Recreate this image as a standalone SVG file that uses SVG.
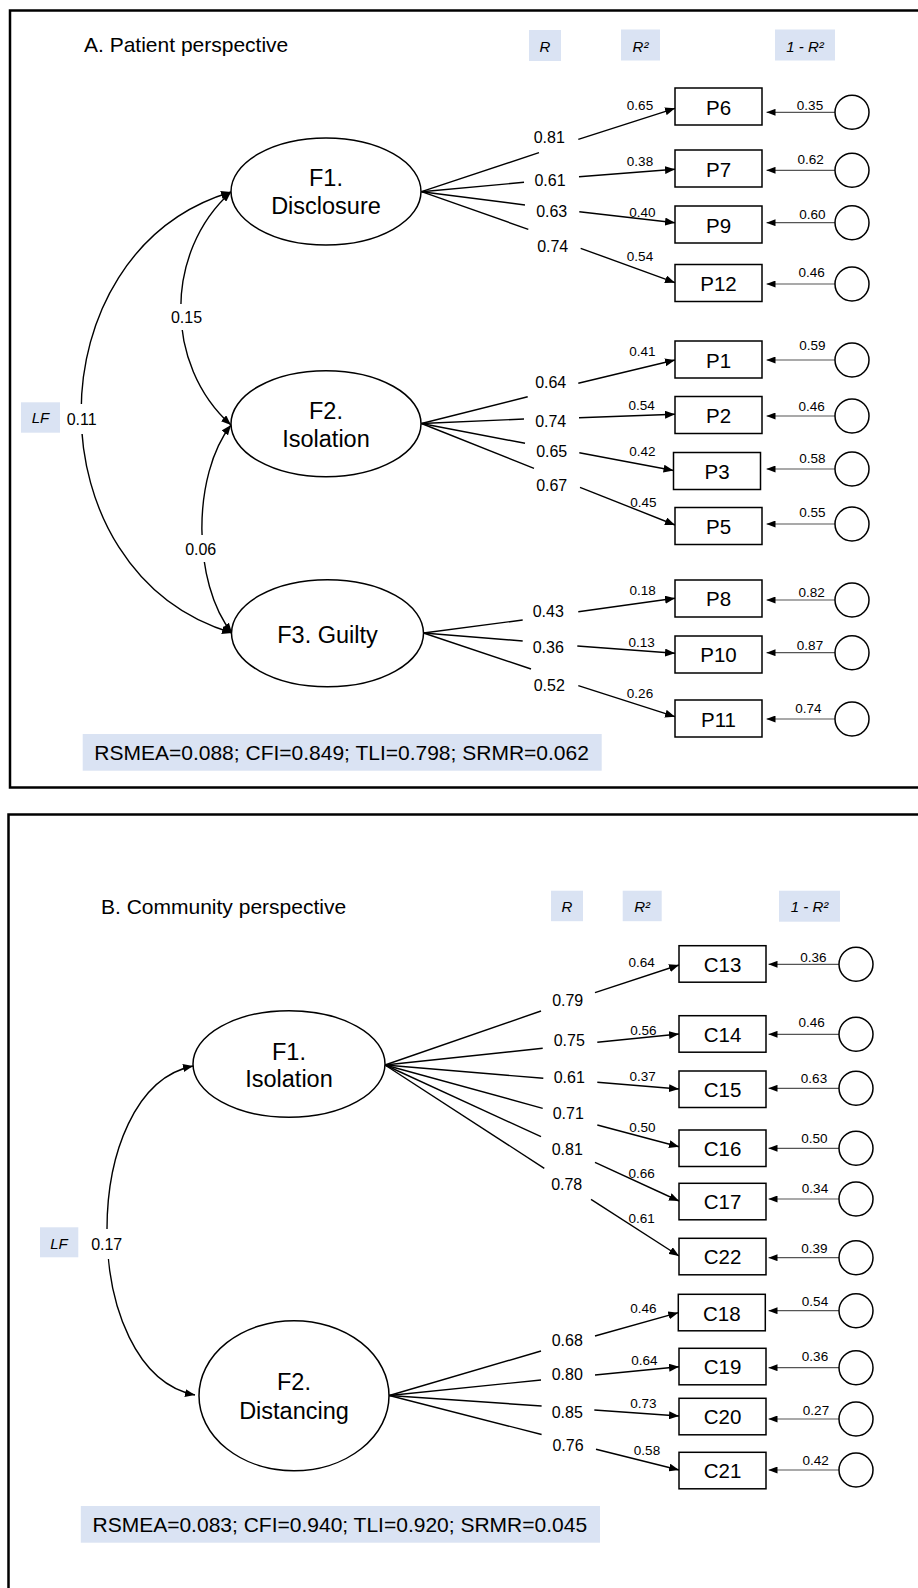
<svg xmlns="http://www.w3.org/2000/svg" width="918" height="1588" viewBox="0 0 918 1588">
<style>
text{font-family:"Liberation Sans",Arial,Helvetica,sans-serif;fill:#000}
.ti{font-size:21px}
.el{font-size:23.5px;text-anchor:middle}
.bx{font-size:20.5px;text-anchor:middle}
.r{font-size:16px;text-anchor:middle}
.s{font-size:13.5px;text-anchor:middle}
.h{font-size:15px;font-style:italic;text-anchor:middle}
.st{font-size:21px}
.frame{fill:none;stroke:#000;stroke-width:2.5}
.ell{fill:#fff;stroke:#000;stroke-width:1.5}
.rect{fill:#fff;stroke:#000;stroke-width:1.5}
.circ{fill:#fff;stroke:#000;stroke-width:1.5}
.hb{fill:#dae3f3}
.ld{stroke:#000;stroke-width:1.4;fill:none}
.ar{stroke:#000;stroke-width:1.4;fill:none;marker-end:url(#ah)}
.er{stroke:#555;stroke-width:1.2;fill:none;marker-end:url(#ahs)}
.cv{stroke:#000;stroke-width:1.4;fill:none;marker-start:url(#ah);marker-end:url(#ah)}
.wb{fill:#fff}
</style>
<defs>
<marker id="ah" viewBox="0 0 10 8" refX="10" refY="4" markerWidth="10" markerHeight="8" markerUnits="userSpaceOnUse" orient="auto-start-reverse"><path d="M0,0L10,4L0,8z" fill="#000"/></marker>
<marker id="ahs" viewBox="0 0 9 7" refX="9" refY="3.5" markerWidth="9" markerHeight="7" markerUnits="userSpaceOnUse" orient="auto"><path d="M0,0L9,3.5L0,7z" fill="#000"/></marker>
</defs>
<rect width="918" height="1588" fill="#fff"/>
<!-- frames -->
<rect class="frame" x="10" y="10.5" width="930" height="777"/>
<rect class="frame" x="8.5" y="814.5" width="930" height="800"/>

<!-- Panel A headers -->
<g id="A-headers">
<text class="ti" x="84" y="52">A. Patient perspective</text>
<rect class="hb" x="529" y="30" width="32" height="31"/><text class="h" x="545" y="52">R</text>
<rect class="hb" x="621" y="29.5" width="39" height="31"/><text class="h" x="640.5" y="52">R²</text>
<rect class="hb" x="775" y="29.5" width="60" height="31"/><text class="h" x="805" y="52">1 - R²</text>
<rect class="hb" x="21" y="402.3" width="39" height="30.4"/><text class="h" x="40.5" y="423">LF</text>
</g>

<!-- Panel A connectors -->
<g id="A-connectors">
<path class="cv" d="M231,192 C31,252 31,573 232,633"/>
<path class="cv" d="M231,192 C164,252 164,365 231,425"/>
<path class="cv" d="M231,425 C192,475 192,583 232,633"/>
<!-- F1 -->
<path class="ld" d="M421.5,191.7L539,152.7"/><path class="ar" d="M578.3,139.3L675,108.3"/>
<path class="ld" d="M421.5,191.7L524,182.3"/><path class="ar" d="M579,176.7L675,169.3"/>
<path class="ld" d="M421.5,191.7L525,205"/><path class="ar" d="M579.3,211.7L675,222.7"/>
<path class="ld" d="M421.5,191.7L528.3,229.3"/><path class="ar" d="M580.7,248.3L675,282.7"/>
<!-- F2 -->
<path class="ld" d="M421.5,423.5L527.7,396.7"/><path class="ar" d="M578.3,383.3L675,360"/>
<path class="ld" d="M421.5,423.5L524,419"/><path class="ar" d="M579,417.7L675,414.3"/>
<path class="ld" d="M421.5,423.5L525,443.3"/><path class="ar" d="M579.3,452.7L673.5,470.5"/>
<path class="ld" d="M421.5,423.5L534,468.3"/><path class="ar" d="M580,487.3L675,525"/>
<!-- F3 -->
<path class="ld" d="M423.5,633L522.7,620"/><path class="ar" d="M578.3,611.7L675,598.3"/>
<path class="ld" d="M423.5,633L522.7,641"/><path class="ar" d="M577.3,646L675,653.3"/>
<path class="ld" d="M423.5,633L531,669"/><path class="ar" d="M578.3,685.7L675,716.7"/>
<!-- errors -->
<path class="er" d="M835,112.3H766.5"/>
<path class="er" d="M835,170.3H766.5"/>
<path class="er" d="M835,222.7H766.5"/>
<path class="er" d="M835,284H766.5"/>
<path class="er" d="M835,360H766.5"/>
<path class="er" d="M835,416H766.5"/>
<path class="er" d="M835,469H766.5"/>
<path class="er" d="M835,524H766.5"/>
<path class="er" d="M835,600H766.5"/>
<path class="er" d="M835,652.7H766.5"/>
<path class="er" d="M835,719H766.5"/>
</g>

<!-- Panel A labels -->
<g id="A-labels">
<rect class="wb" x="66" y="404" width="31" height="30"/><text class="r" x="81.7" y="425">0.11</text>
<rect class="wb" x="171" y="304" width="31" height="26"/><text class="r" x="186.5" y="323">0.15</text>
<rect class="wb" x="185" y="535" width="31" height="27"/><text class="r" x="200.7" y="555">0.06</text>
<text class="r" x="549.3" y="143.3">0.81</text>
<text class="r" x="550" y="185.7">0.61</text>
<text class="r" x="551.7" y="217.3">0.63</text>
<text class="r" x="552.7" y="251.7">0.74</text>
<text class="r" x="550.7" y="387.7">0.64</text>
<text class="r" x="550.7" y="426.7">0.74</text>
<text class="r" x="551.7" y="456.7">0.65</text>
<text class="r" x="551.7" y="490.7">0.67</text>
<text class="r" x="548.3" y="616.7">0.43</text>
<text class="r" x="548.3" y="653.3">0.36</text>
<text class="r" x="549.3" y="690.7">0.52</text>
<text class="s" x="640" y="110">0.65</text>
<text class="s" x="640" y="165.7">0.38</text>
<text class="s" x="642.3" y="216.7">0.40</text>
<text class="s" x="640" y="261">0.54</text>
<text class="s" x="642.3" y="355.7">0.41</text>
<text class="s" x="641.7" y="410">0.54</text>
<text class="s" x="642.3" y="456">0.42</text>
<text class="s" x="643.3" y="507.3">0.45</text>
<text class="s" x="642.7" y="595">0.18</text>
<text class="s" x="641.7" y="646.7">0.13</text>
<text class="s" x="640" y="697.7">0.26</text>
<text class="s" x="810" y="110">0.35</text>
<text class="s" x="810.7" y="164.3">0.62</text>
<text class="s" x="812.3" y="219.3">0.60</text>
<text class="s" x="811.7" y="277.3">0.46</text>
<text class="s" x="812.3" y="350">0.59</text>
<text class="s" x="811.7" y="411">0.46</text>
<text class="s" x="812.3" y="463.3">0.58</text>
<text class="s" x="812.3" y="517.3">0.55</text>
<text class="s" x="811.7" y="597.3">0.82</text>
<text class="s" x="810" y="650">0.87</text>
<text class="s" x="808.3" y="713.3">0.74</text>
<rect class="hb" x="82.7" y="734" width="519" height="36.7"/>
<text class="st" x="94.3" y="760">RSMEA=0.088; CFI=0.849; TLI=0.798; SRMR=0.062</text>
</g>

<!-- Panel A nodes -->
<g id="A-F1"><ellipse class="ell" cx="326" cy="191.5" rx="95" ry="53.5"/><text class="el" x="326" y="186">F1.</text><text class="el" x="326" y="214">Disclosure</text></g>
<g id="A-F2"><ellipse class="ell" cx="326" cy="423.7" rx="95" ry="53"/><text class="el" x="326" y="419">F2.</text><text class="el" x="326" y="447.3">Isolation</text></g>
<g id="A-F3"><ellipse class="ell" cx="327.5" cy="633.3" rx="96" ry="53.5"/><text class="el" x="327.5" y="643.3">F3. Guilty</text></g>
<g id="A-P6"><rect class="rect" x="675" y="88" width="87" height="37"/><text class="bx" x="718.5" y="114.5">P6</text></g>
<g id="A-P7"><rect class="rect" x="675" y="150" width="87" height="37"/><text class="bx" x="718.5" y="176.5">P7</text></g>
<g id="A-P9"><rect class="rect" x="675" y="206" width="87" height="37"/><text class="bx" x="718.5" y="232.5">P9</text></g>
<g id="A-P12"><rect class="rect" x="675" y="264.5" width="87" height="37"/><text class="bx" x="718.5" y="291">P12</text></g>
<g id="A-P1"><rect class="rect" x="675" y="341" width="87" height="37"/><text class="bx" x="718.5" y="367.5">P1</text></g>
<g id="A-P2"><rect class="rect" x="675" y="396.5" width="87" height="37"/><text class="bx" x="718.5" y="423">P2</text></g>
<g id="A-P3"><rect class="rect" x="673.5" y="452.5" width="87" height="37"/><text class="bx" x="717" y="479">P3</text></g>
<g id="A-P5"><rect class="rect" x="675" y="507.5" width="87" height="37"/><text class="bx" x="718.5" y="534">P5</text></g>
<g id="A-P8"><rect class="rect" x="675" y="580" width="87" height="37"/><text class="bx" x="718.5" y="606">P8</text></g>
<g id="A-P10"><rect class="rect" x="675" y="636" width="87" height="37"/><text class="bx" x="718.5" y="662">P10</text></g>
<g id="A-P11"><rect class="rect" x="675" y="700" width="87" height="37"/><text class="bx" x="718.5" y="726.5">P11</text></g>
<g id="A-e6"><circle class="circ" cx="852" cy="112.3" r="17"/></g>
<g id="A-e7"><circle class="circ" cx="852" cy="170.3" r="17"/></g>
<g id="A-e9"><circle class="circ" cx="852" cy="222.7" r="17"/></g>
<g id="A-e12"><circle class="circ" cx="852" cy="284" r="17"/></g>
<g id="A-e1"><circle class="circ" cx="852" cy="360" r="17"/></g>
<g id="A-e2"><circle class="circ" cx="852" cy="416" r="17"/></g>
<g id="A-e3"><circle class="circ" cx="852" cy="469" r="17"/></g>
<g id="A-e5"><circle class="circ" cx="852" cy="524" r="17"/></g>
<g id="A-e8"><circle class="circ" cx="852" cy="600" r="17"/></g>
<g id="A-e10"><circle class="circ" cx="852" cy="652.7" r="17"/></g>
<g id="A-e11"><circle class="circ" cx="852" cy="719" r="17"/></g>

<!-- Panel B headers -->
<g id="B-headers">
<text class="ti" x="101" y="914.3">B. Community perspective</text>
<rect class="hb" x="551" y="890.7" width="32" height="30.5"/><text class="h" x="567" y="912.3">R</text>
<rect class="hb" x="622.7" y="890.7" width="39" height="30.5"/><text class="h" x="642.2" y="912.3">R²</text>
<rect class="hb" x="779" y="890.7" width="61" height="31"/><text class="h" x="809.5" y="912.3">1 - R²</text>
<rect class="hb" x="40" y="1227.3" width="38.3" height="30"/><text class="h" x="59" y="1248.5">LF</text>
</g>

<!-- Panel B connectors -->
<g id="B-connectors">
<path class="cv" d="M193,1066 C78,1089 78,1372 195,1395"/>
<path class="ld" d="M385,1065L541,1011"/><path class="ar" d="M595,992.7L679,965"/>
<path class="ld" d="M385,1065L542.7,1048.3"/><path class="ar" d="M597.3,1042.3L679,1034"/>
<path class="ld" d="M385,1065L543.3,1078.3"/><path class="ar" d="M597.3,1082.3L679,1089"/>
<path class="ld" d="M385,1065L542.7,1108.3"/><path class="ar" d="M597.3,1125L679,1146.7"/>
<path class="ld" d="M385,1065L541,1136.7"/><path class="ar" d="M595,1162.3L679,1201"/>
<path class="ld" d="M385,1065L544.3,1168.3"/><path class="ar" d="M591,1199.3L679,1256"/>
<path class="ld" d="M389.3,1395.5L541,1351"/><path class="ar" d="M595,1336L678.3,1312.7"/>
<path class="ld" d="M389.3,1395.5L541,1380"/><path class="ar" d="M595,1375L679,1366.7"/>
<path class="ld" d="M389.3,1395.5L541.6,1406"/><path class="ar" d="M594.3,1410L679,1416"/>
<path class="ld" d="M389.3,1395.5L541.6,1434.5"/><path class="ar" d="M596,1449.3L679,1470"/>
<path class="er" d="M839,964.3H768.5"/>
<path class="er" d="M839,1034.3H768.5"/>
<path class="er" d="M839,1088.3H768.5"/>
<path class="er" d="M839,1148.3H768.5"/>
<path class="er" d="M839,1199H768.5"/>
<path class="er" d="M839,1257.7H768.5"/>
<path class="er" d="M839,1310.7H768.5"/>
<path class="er" d="M839,1367.7H768.5"/>
<path class="er" d="M839,1419H768.5"/>
<path class="er" d="M839,1470H768.5"/>
</g>

<!-- Panel B labels -->
<g id="B-labels">
<rect class="wb" x="91" y="1229" width="31" height="30"/><text class="r" x="106.7" y="1250">0.17</text>
<text class="r" x="567.7" y="1005.7">0.79</text>
<text class="r" x="569.3" y="1046">0.75</text>
<text class="r" x="569.3" y="1082.7">0.61</text>
<text class="r" x="568.3" y="1118.7">0.71</text>
<text class="r" x="567.3" y="1155">0.81</text>
<text class="r" x="566.7" y="1190">0.78</text>
<text class="r" x="567.3" y="1346">0.68</text>
<text class="r" x="567.3" y="1380">0.80</text>
<text class="r" x="567.3" y="1418">0.85</text>
<text class="r" x="568" y="1450.7">0.76</text>
<text class="s" x="641.7" y="967.3">0.64</text>
<text class="s" x="643.3" y="1035">0.56</text>
<text class="s" x="642.7" y="1081">0.37</text>
<text class="s" x="642.3" y="1131.7">0.50</text>
<text class="s" x="641.7" y="1178.3">0.66</text>
<text class="s" x="641.7" y="1223.3">0.61</text>
<text class="s" x="643.3" y="1313.3">0.46</text>
<text class="s" x="644.3" y="1365">0.64</text>
<text class="s" x="643.3" y="1408.3">0.73</text>
<text class="s" x="647" y="1455">0.58</text>
<text class="s" x="813.3" y="961.7">0.36</text>
<text class="s" x="811.7" y="1027.3">0.46</text>
<text class="s" x="814" y="1082.7">0.63</text>
<text class="s" x="814.3" y="1142.7">0.50</text>
<text class="s" x="815" y="1193.3">0.34</text>
<text class="s" x="814.3" y="1253.3">0.39</text>
<text class="s" x="815" y="1305.7">0.54</text>
<text class="s" x="815" y="1360.7">0.36</text>
<text class="s" x="816" y="1415">0.27</text>
<text class="s" x="815.6" y="1465">0.42</text>
<rect class="hb" x="80.8" y="1506" width="519.2" height="36.7"/>
<text class="st" x="92.5" y="1531.7">RSMEA=0.083; CFI=0.940; TLI=0.920; SRMR=0.045</text>
</g>

<!-- Panel B nodes -->
<g id="B-F1"><ellipse class="ell" cx="289" cy="1064" rx="96" ry="53.3"/><text class="el" x="289" y="1060">F1.</text><text class="el" x="289" y="1087.3">Isolation</text></g>
<g id="B-F2"><ellipse class="ell" cx="294" cy="1395.7" rx="95" ry="75"/><text class="el" x="294" y="1390">F2.</text><text class="el" x="294" y="1419">Distancing</text></g>
<g id="B-C13"><rect class="rect" x="679" y="945.7" width="87" height="36.5"/><text class="bx" x="722.5" y="971.7">C13</text></g>
<g id="B-C14"><rect class="rect" x="679" y="1015.7" width="87" height="36.5"/><text class="bx" x="722.5" y="1041.7">C14</text></g>
<g id="B-C15"><rect class="rect" x="679" y="1071" width="87" height="36.5"/><text class="bx" x="722.5" y="1097.3">C15</text></g>
<g id="B-C16"><rect class="rect" x="679" y="1130" width="87" height="36.5"/><text class="bx" x="722.5" y="1155.5">C16</text></g>
<g id="B-C17"><rect class="rect" x="679" y="1183.3" width="87" height="36.5"/><text class="bx" x="722.5" y="1209">C17</text></g>
<g id="B-C22"><rect class="rect" x="679" y="1238.3" width="87" height="36.5"/><text class="bx" x="722.5" y="1264.3">C22</text></g>
<g id="B-C18"><rect class="rect" x="678.3" y="1294.3" width="87" height="36.5"/><text class="bx" x="721.8" y="1320.5">C18</text></g>
<g id="B-C19"><rect class="rect" x="679" y="1348.3" width="87" height="36.5"/><text class="bx" x="722.5" y="1374.3">C19</text></g>
<g id="B-C20"><rect class="rect" x="679" y="1398.3" width="87" height="36.5"/><text class="bx" x="722.5" y="1424.3">C20</text></g>
<g id="B-C21"><rect class="rect" x="679" y="1452.3" width="87" height="36.5"/><text class="bx" x="722.5" y="1478">C21</text></g>
<g id="B-e13"><circle class="circ" cx="856" cy="964.3" r="17"/></g>
<g id="B-e14"><circle class="circ" cx="856" cy="1034.3" r="17"/></g>
<g id="B-e15"><circle class="circ" cx="856" cy="1088.3" r="17"/></g>
<g id="B-e16"><circle class="circ" cx="856" cy="1148.3" r="17"/></g>
<g id="B-e17"><circle class="circ" cx="856" cy="1199" r="17"/></g>
<g id="B-e22"><circle class="circ" cx="856" cy="1257.7" r="17"/></g>
<g id="B-e18"><circle class="circ" cx="856" cy="1310.7" r="17"/></g>
<g id="B-e19"><circle class="circ" cx="856" cy="1367.7" r="17"/></g>
<g id="B-e20"><circle class="circ" cx="856" cy="1419" r="17"/></g>
<g id="B-e21"><circle class="circ" cx="856" cy="1470" r="17"/></g>
</svg>
